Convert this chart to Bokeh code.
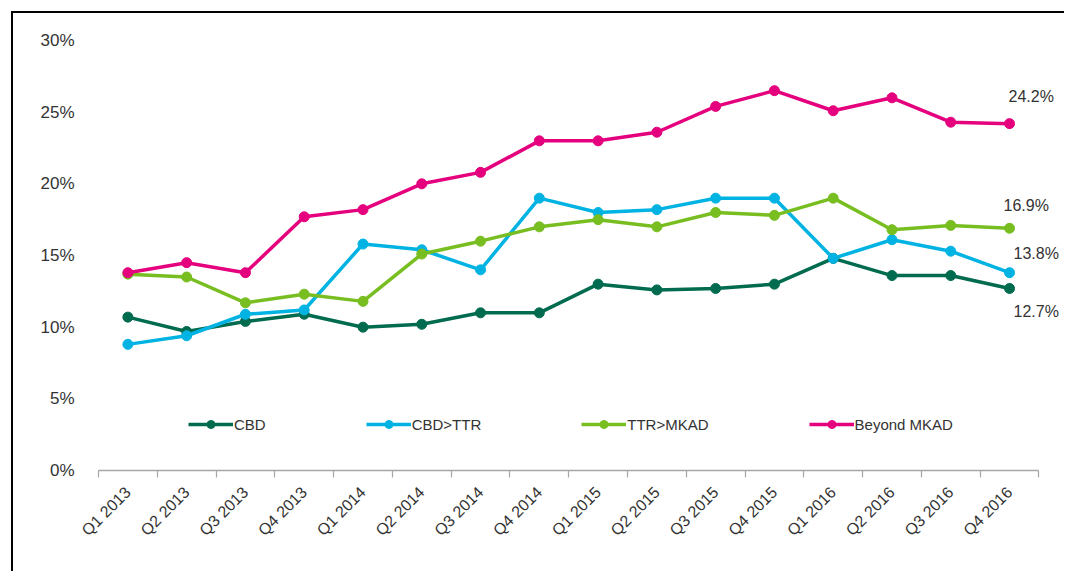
import numpy as np
from bokeh.plotting import figure
from bokeh.models import (FixedTicker, PrintfTickFormatter, Legend, LegendItem,
                          Range1d, Label)
from bokeh.embed import file_html
from bokeh.resources import INLINE
from math import pi

quarters = ["Q1 2013", "Q2 2013", "Q3 2013", "Q4 2013",
            "Q1 2014", "Q2 2014", "Q3 2014", "Q4 2014",
            "Q1 2015", "Q2 2015", "Q3 2015", "Q4 2015",
            "Q1 2016", "Q2 2016", "Q3 2016", "Q4 2016"]

cbd = [10.7, 9.7, 10.4, 10.9, 10.0, 10.2, 11.0, 11.0,
       13.0, 12.6, 12.7, 13.0, 14.8, 13.6, 13.6, 12.7]
cbd_ttr = [8.8, 9.4, 10.9, 11.2, 15.8, 15.4, 14.0, 19.0,
           18.0, 18.2, 19.0, 19.0, 14.8, 16.1, 15.3, 13.8]
ttr_mkad = [13.7, 13.5, 11.7, 12.3, 11.8, 15.1, 16.0, 17.0,
            17.5, 17.0, 18.0, 17.8, 19.0, 16.8, 17.1, 16.9]
beyond_mkad = [13.8, 14.5, 13.8, 17.7, 18.2, 20.0, 20.8, 23.0,
               23.0, 23.6, 25.4, 26.5, 25.1, 26.0, 24.3, 24.2]

series_names = ["CBD", "CBD>TTR", "TTR>MKAD", "Beyond MKAD"]
series_values = [cbd, cbd_ttr, ttr_mkad, beyond_mkad]
series_colors = ["#006B4E", "#00B3E3", "#78BE21", "#E5007D"]

y_ticks = [0, 5, 10, 15, 20, 25, 30]

FONT = "Liberation Sans"
TXT = "#333333"

n = len(quarters)
xs = np.arange(n) + 0.5

p = figure(width=1053, height=560, output_backend="svg", toolbar_location=None,
           x_range=Range1d(0, n + 0.35), y_range=Range1d(0, 30),
           min_border_left=85, min_border_right=7, min_border_top=27,
           min_border_bottom=103)
p.margin = (11, 0, 0, 11)
p.outline_line_color = None
p.xgrid.grid_line_color = None
p.ygrid.grid_line_color = None
p.styles = {"border-left": "2px solid black", "border-top": "2px solid black"}

# y axis
p.yaxis.ticker = FixedTicker(ticks=y_ticks)
p.yaxis.formatter = PrintfTickFormatter(format="%d%%")
p.yaxis.axis_line_color = None
p.yaxis.major_tick_line_color = None
p.yaxis.minor_tick_line_color = None
p.yaxis.major_label_standoff = 18
p.yaxis.major_label_text_font = FONT
p.yaxis.major_label_text_font_size = "17px"
p.yaxis.major_label_text_color = TXT

# x axis
p.xaxis.bounds = (0, n)
p.xaxis.ticker = FixedTicker(ticks=list(xs), minor_ticks=list(range(n + 1)))
p.xaxis.major_label_overrides = {float(x): q for x, q in zip(xs, quarters)}
p.xaxis.axis_line_color = "#A6A6A6"
p.xaxis.axis_line_width = 1.5
p.xaxis.major_tick_line_color = None
p.xaxis.minor_tick_line_color = "#A6A6A6"
p.xaxis.minor_tick_line_width = 1.2
p.xaxis.minor_tick_in = 0
p.xaxis.minor_tick_out = 7
p.xaxis.major_label_orientation = pi / 4
p.xaxis.major_label_standoff = 12
p.xaxis.major_label_text_font = FONT
p.xaxis.major_label_text_font_size = "16px"
p.xaxis.major_label_text_color = TXT

items = []
for name, vals, col in zip(series_names, series_values, series_colors):
    r1 = p.line(xs, vals, line_color=col, line_width=3.5)
    r2 = p.scatter(xs, vals, size=10, fill_color=col, line_color=col)
    items.append(LegendItem(label=name, renderers=[r1, r2]))

legend = Legend(items=items, orientation="horizontal", location=(90, 36),
                glyph_width=45, glyph_height=20, label_standoff=1, spacing=100,
                padding=0, margin=0, border_line_alpha=0, background_fill_alpha=0,
                label_text_font=FONT, label_text_font_size="15px",
                label_text_color=TXT)
p.add_layout(legend, "center")

# end-of-line value labels
offsets = {"CBD": (4, -23), "CBD>TTR": (4, 19), "TTR>MKAD": (-6, 23),
           "Beyond MKAD": (-1, 27)}
for name, vals in zip(series_names, series_values):
    dx, dy = offsets[name]
    p.add_layout(Label(x=xs[-1], y=vals[-1], text=f"{vals[-1]:.1f}%",
                       x_offset=dx, y_offset=dy, text_baseline="middle",
                       text_font=FONT, text_font_size="16px", text_color=TXT))

open("out.html", "w").write(file_html(p, INLINE))
